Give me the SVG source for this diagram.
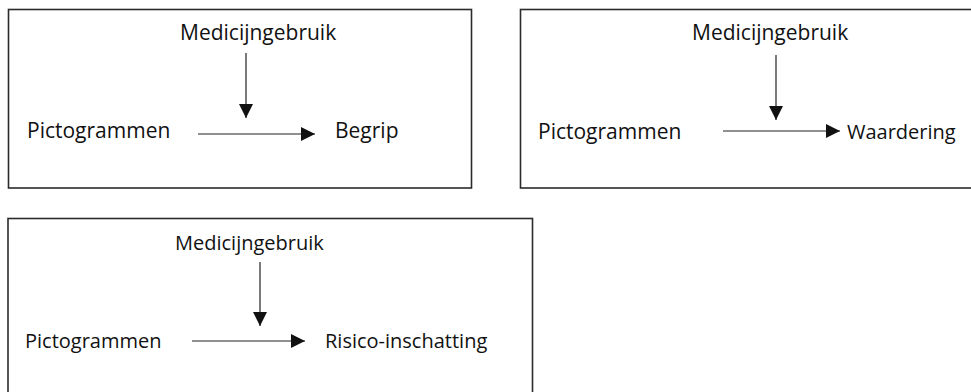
<svg xmlns="http://www.w3.org/2000/svg" width="971" height="392" viewBox="0 0 971 392">
  <style>
    .frame { fill: #ffffff; stroke: #2b2b2b; stroke-width: 1.6; }
    .label { font-family: "Open Sans", "Liberation Sans", sans-serif; font-size: 21px; fill: #111111; }
    .small { font-size: 20px; }
    .link { stroke: #222222; stroke-width: 1.2; fill: none; marker-end: url(#head); }
  </style>
  <defs>
    <marker id="head" markerUnits="userSpaceOnUse" markerWidth="14" markerHeight="14" viewBox="0 0 12 12" refX="12" refY="6" orient="auto">
      <path d="M0,0 L12,6 L0,12 Z" fill="#111111"/>
    </marker>
  </defs>

  <rect width="971" height="392" fill="#ffffff"/>

  <!-- panel: Begrip -->
  <g id="panel-begrip">
    <rect class="frame" x="8.5" y="9.5" width="463" height="178.5"/>
    <g id="b-medicijngebruik"><text class="label" x="180" y="40">Medicijngebruik</text></g>
    <g id="b-pictogrammen"><text class="label" x="27" y="138">Pictogrammen</text></g>
    <g id="b-begrip"><text class="label" x="335" y="138">Begrip</text></g>
  </g>

  <!-- panel: Waardering -->
  <g id="panel-waardering">
    <rect class="frame" x="520.5" y="9.5" width="460" height="178.5"/>
    <g id="w-medicijngebruik"><text class="label" x="692" y="40">Medicijngebruik</text></g>
    <g id="w-pictogrammen"><text class="label" x="538" y="139">Pictogrammen</text></g>
    <g id="w-waardering"><text class="label small" x="847" y="139">Waardering</text></g>
  </g>

  <!-- panel: Risico-inschatting -->
  <g id="panel-risico">
    <rect class="frame" x="8" y="218.5" width="524.5" height="190"/>
    <g id="r-medicijngebruik"><text class="label small" x="175" y="250">Medicijngebruik</text></g>
    <g id="r-pictogrammen"><text class="label small" x="25" y="348">Pictogrammen</text></g>
    <g id="r-risico"><text class="label small" x="325" y="348">Risico-inschatting</text></g>
  </g>

  <!-- connectors -->
  <g id="connectors">
    <line class="link" x1="246" y1="53" x2="246" y2="118"/>
    <line class="link" x1="198" y1="134" x2="315" y2="134"/>
    <line class="link" x1="776" y1="55" x2="776" y2="120"/>
    <line class="link" x1="723" y1="131" x2="840" y2="131"/>
    <line class="link" x1="260" y1="262" x2="260" y2="326"/>
    <line class="link" x1="192" y1="341" x2="305" y2="341"/>
  </g>
</svg>
